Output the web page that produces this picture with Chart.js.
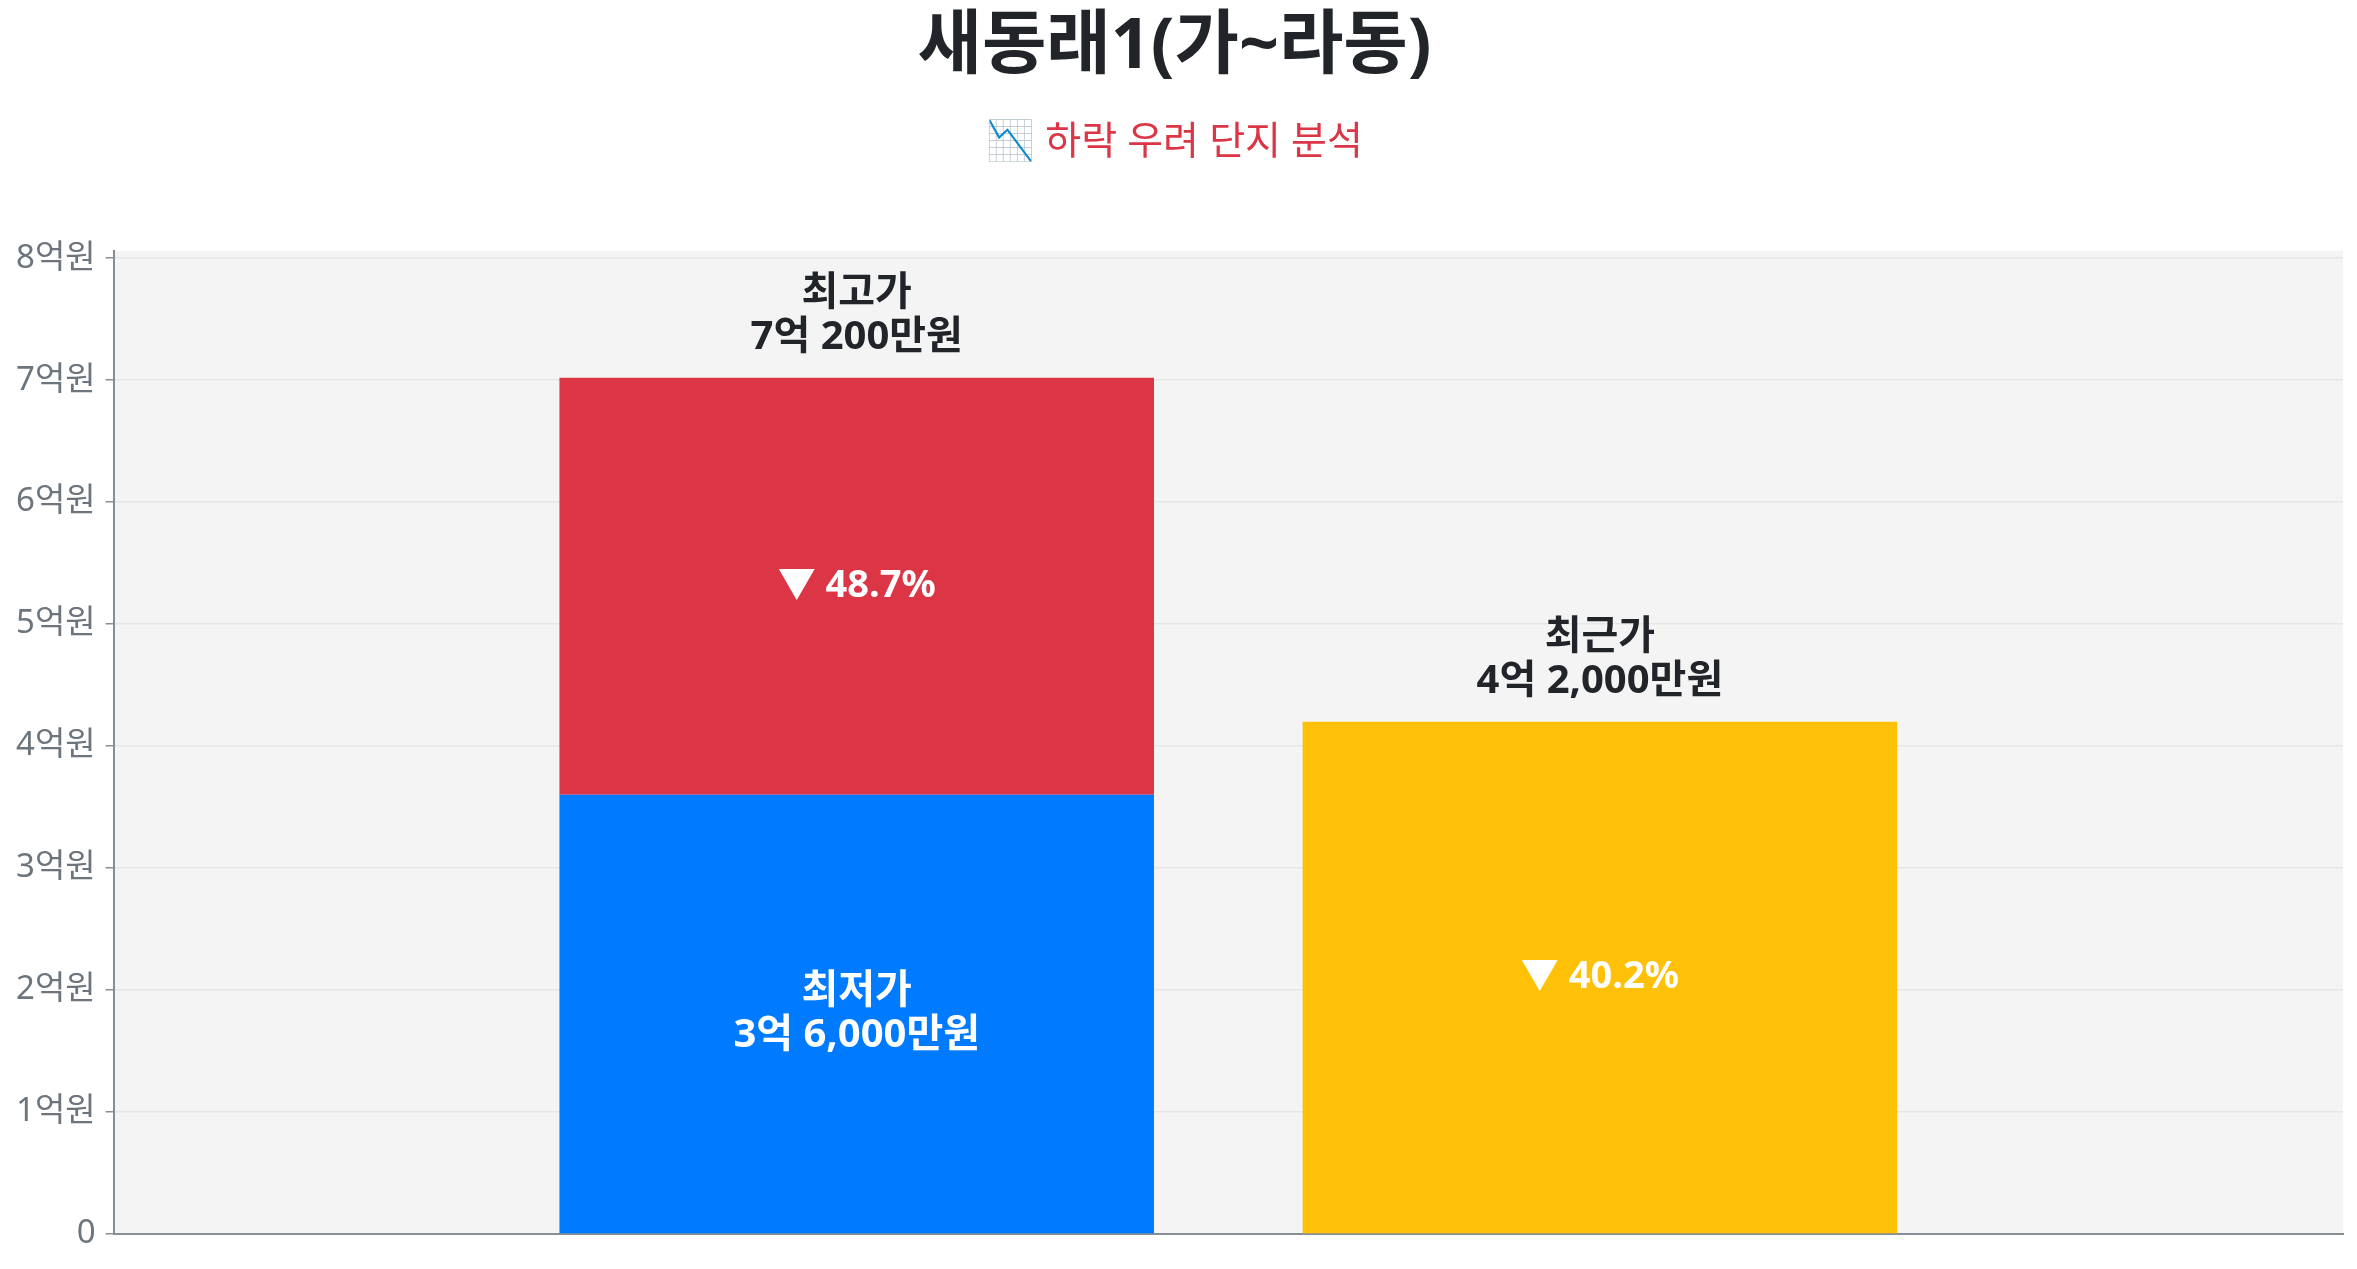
<!DOCTYPE html>
<html lang="ko">
<head>
<meta charset="utf-8">
<title>새동래1(가~라동)</title>
<script src="https://cdn.jsdelivr.net/npm/chart.js@4.4.1/dist/chart.umd.min.js"></script>
<style>
  html, body { margin: 0; padding: 0; background: #ffffff; }
  #wrap { width: 2357px; height: 1269px; }
</style>
</head>
<body>
<div id="wrap"><canvas id="chart-canvas"></canvas></div>
<script>
// Chart data
const titleText = '새동래1(가~라동)';
const subtitleText = '📉 하락 우려 단지 분석';
const categories = ['새동래1(가~라동)'];
const highPrice = [702000000];   // 최고가
const lowPrice = [360000000];    // 최저가
const recentPrice = [420000000]; // 최근가
const yTickValues = [0, 100000000, 200000000, 300000000, 400000000, 500000000, 600000000, 700000000, 800000000];
const yTickLabels = ['0', '1억원', '2억원', '3억원', '4억원', '5억원', '6억원', '7억원', '8억원'];

const FONT = "'Noto Sans', 'Noto Sans CJK KR', sans-serif";

// 702000000 -> "7억 200만원"
function formatWon(v) {
    const eok = Math.floor(v / 100000000);
    const man = Math.round((v % 100000000) / 10000);
    let s = '';
    if (eok > 0) s += eok + '억';
    if (man > 0) s += (s ? ' ' : '') + man.toLocaleString('en-US') + '만원';
    else s += '원';
    return s;
}

function dropPct(from, to) {
    return '▼ ' + ((from - to) / from * 100).toFixed(1) + '%';
}

// Light grey plot area
const plotBackground = {
    id: 'plotBackground',
    beforeDraw(chart) {
        const { ctx, chartArea: a } = chart;
        ctx.save();
        ctx.fillStyle = '#f4f4f4';
        ctx.fillRect(a.left, a.top, a.right - a.left, a.bottom - a.top);
        ctx.restore();
    }
};

function drawLines(ctx, lines, x, yCenter, color) {
    const lh = 44;
    ctx.fillStyle = color;
    lines.forEach((line, i) => {
        ctx.fillText(line, x, yCenter + (i - (lines.length - 1) / 2) * lh);
    });
}

// Text labels on and above the bars
const barLabels = {
    id: 'barLabels',
    afterDatasetsDraw(chart) {
        const ctx = chart.ctx;
        const low = chart.getDatasetMeta(0).data[0];
        const drop = chart.getDatasetMeta(1).data[0];
        const recent = chart.getDatasetMeta(2).data[0];

        ctx.save();
        ctx.textAlign = 'center';
        ctx.textBaseline = 'middle';

        ctx.font = 'bold 40px ' + FONT;
        // lowest price inside the blue segment
        drawLines(ctx, ['최저가', formatWon(lowPrice[0])], low.x, (low.y + low.base) / 2, '#ffffff');
        // high price above the stack
        drawLines(ctx, ['최고가', formatWon(highPrice[0])], drop.x, drop.y - 62, '#212529');
        // recent price above its bar
        drawLines(ctx, ['최근가', formatWon(recentPrice[0])], recent.x, recent.y - 62, '#212529');

        ctx.font = 'bold 38px ' + FONT;
        // drop from high to low inside the red segment
        drawLines(ctx, [dropPct(highPrice[0], lowPrice[0])], drop.x, (drop.y + drop.base) / 2, '#ffffff');
        // drop from high to recent inside the yellow bar
        drawLines(ctx, [dropPct(highPrice[0], recentPrice[0])], recent.x, (recent.y + recent.base) / 2, '#ffffff');
        ctx.restore();
    }
};

const ctx = document.getElementById('chart-canvas');

new Chart(ctx, {
    type: 'bar',
    data: {
        labels: categories,
        datasets: [
            {
                label: '최저가',
                data: lowPrice,
                backgroundColor: '#007bff',
                stack: 'range'
            },
            {
                label: '하락폭',
                data: highPrice.map((h, i) => h - lowPrice[i]),
                backgroundColor: '#dc3545',
                stack: 'range'
            },
            {
                label: '최근가',
                data: recentPrice,
                backgroundColor: '#ffc107',
                stack: 'recent'
            }
        ]
    },
    options: {
        responsive: true,
        maintainAspectRatio: false,
        animation: false,
        categoryPercentage: 0.6667,
        barPercentage: 0.8,
        layout: {
            padding: { left: 6, right: 14, top: 0, bottom: 27 }
        },
        plugins: {
            legend: { display: false },
            tooltip: { enabled: false },
            title: {
                display: true,
                text: titleText,
                color: '#212529',
                font: { family: FONT, size: 70, weight: 'bold' },
                padding: { top: 6, bottom: 14 }
            },
            subtitle: {
                display: true,
                text: subtitleText,
                color: '#dc3545',
                font: { family: FONT, size: 39, weight: 'normal' },
                padding: { top: 15, bottom: 85 }
            }
        },
        scales: {
            x: {
                stacked: true,
                grid: { display: false },
                border: { display: true, color: '#868e96', width: 2 },
                ticks: { display: false }
            },
            y: {
                stacked: true,
                bounds: 'data',
                min: 0,
                max: 806000000,
                grid: { color: '#e6e6e6', lineWidth: 1.5, tickColor: '#868e96', tickLength: 8 },
                border: { color: '#868e96', width: 2 },
                afterBuildTicks: (axis) => {
                    axis.ticks = yTickValues.map(v => ({ value: v }));
                },
                ticks: {
                    color: '#6c757d',
                    padding: 10,
                    font: { family: FONT, size: 33 },
                    callback: (v) => yTickLabels[yTickValues.indexOf(v)]
                }
            }
        }
    },
    plugins: [plotBackground, barLabels]
});
</script>
</body>
</html>
